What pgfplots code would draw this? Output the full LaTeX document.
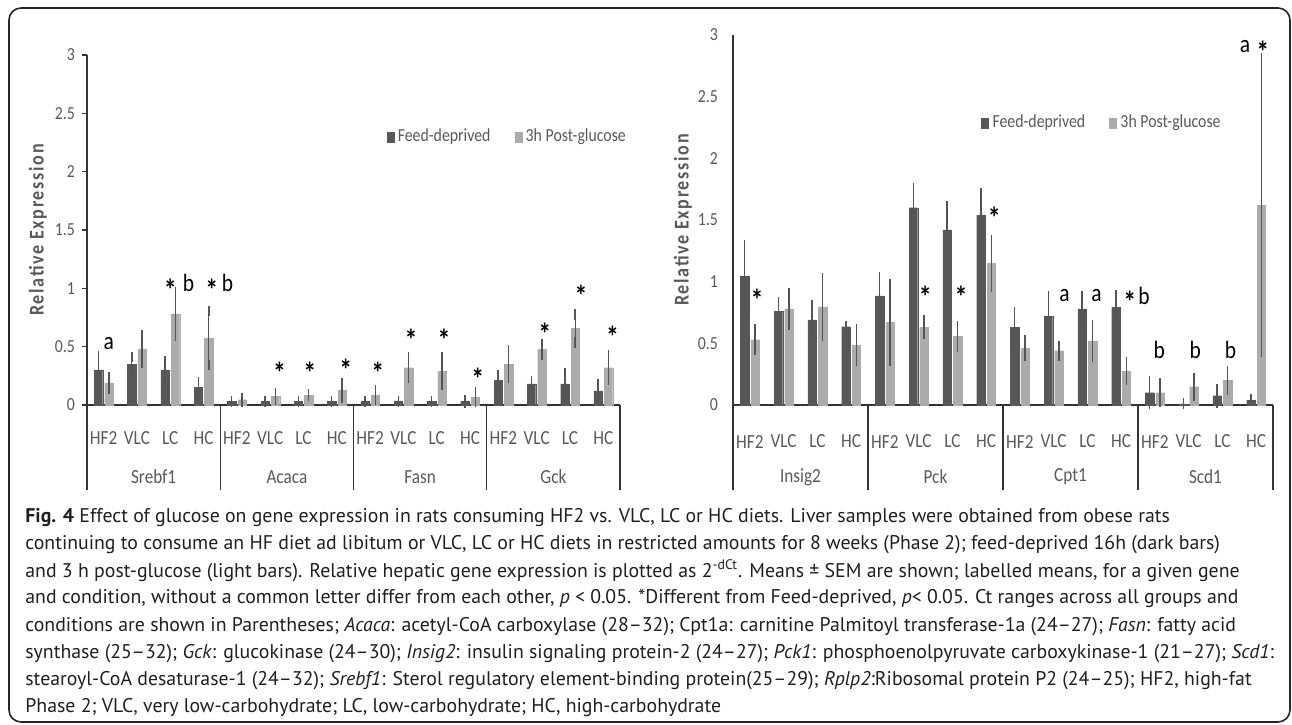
\documentclass[border=0pt]{standalone}
\usepackage{fontspec}
\setmainfont{PT Sans}
\newfontfamily\chartfont[FakeStretch=0.86]{Carlito}
\newfontfamily\labfont[FakeStretch=0.86, LetterSpace=8]{Carlito}
\usepackage{pgfplots}
\pgfplotsset{compat=1.18}
\usepackage{pgfplotstable}

\definecolor{dk}{HTML}{575757}
\definecolor{lt}{HTML}{ABABAB}
\definecolor{eb}{HTML}{555555}
\definecolor{tc}{HTML}{595959}

% x: 0-3 first gene, 4-7 second, ... ; fd = feed-deprived, pg = 3h post-glucose
\pgfplotstableread{
x fd fde pg pge
0 0.30 0.12 0.19 0.05
1 0.35 0.06 0.48 0.12
2 0.30 0.075 0.78 0.19
3 0.15 0.045 0.575 0.23
4 0.03 0.005 0.045 0.015
5 0.03 0.005 0.075 0.03
6 0.03 0.005 0.085 0.01
7 0.03 0.005 0.125 0.065
8 0.03 0.005 0.085 0.04
9 0.03 0.005 0.32 0.09
10 0.03 0.005 0.29 0.12
11 0.03 0.01 0.07 0.04
12 0.21 0.045 0.35 0.12
13 0.18 0.025 0.475 0.045
14 0.18 0.09 0.655 0.12
15 0.12 0.055 0.32 0.105
}\tabA

\pgfplotstableread{
x fd fde pg pge
0 1.045 0.25 0.53 0.085
1 0.76 0.07 0.78 0.13
2 0.69 0.12 0.795 0.23
3 0.635 0.005 0.485 0.13
4 0.885 0.15 0.67 0.31
5 1.60 0.16 0.63 0.055
6 1.42 0.19 0.555 0.08
7 1.54 0.18 1.15 0.19
8 0.63 0.12 0.46 0.065
9 0.72 0.165 0.44 0.04
10 0.78 0.10 0.52 0.13
11 0.79 0.10 0.275 0.07
12 0.10 0.09 0.10 0.075
13 0.01 0.002 0.148 0.07
14 0.075 0.055 0.20 0.075
15 0.04 0.005 1.62 1.19
}\tabB

\pgfplotsset{
  gene axis/.style={
    scale only axis, anchor=south west,
    xmin=-0.5, xmax=15.5, ymin=0, ymax=3,
    axis lines*=left, clip=false,
    axis line style={black!80, line width=0.6pt},
    ybar, bar width=4.2pt,
    xtick={0,...,15},
    xticklabels={HF2,VLC,LC,HC,HF2,VLC,LC,HC,HF2,VLC,LC,HC,HF2,VLC,LC,HC},
    x tick style={draw=none},
    xticklabel style={font=\chartfont\fontsize{10}{11}\selectfont, text=tc, anchor=center, yshift=-14pt},
    ytick={0,0.5,1,1.5,2,2.5,3},
    yticklabel style={font=\chartfont\fontsize{9.2}{10}\selectfont, text=tc},
    /pgf/number format/assume math mode=true,
    ylabel={Relative Expression},
    every axis y label/.style={at={(axis description cs:0,0.5)}, anchor=center, rotate=90,
      font=\labfont\bfseries\fontsize{10.5}{12}\selectfont, text=tc},
    legend style={draw=none, fill=none, font=\chartfont\fontsize{9.2}{10}\selectfont, text=tc,
      anchor=west, legend columns=2, /tikz/every even column/.append style={column sep=10pt}},
  },
  fd bars/.style={fill=dk, draw=dk, line width=0.1pt, bar shift=-2.6pt,
    legend image code/.code={\fill[dk] (0pt,-2.6pt) rectangle (3.5pt,2.6pt);},
    error bars/.cd, y dir=both, y explicit, error mark=-,
    error bar style={draw=eb, line width=0.7pt},
    error mark options={draw=eb, line width=0.75pt, mark size=2.6pt}},
  pg bars/.style={fill=lt, draw=lt, line width=0.1pt, bar shift=2.6pt,
    legend image code/.code={\fill[lt] (0pt,-2.6pt) rectangle (3.5pt,2.6pt);},
    error bars/.cd, y dir=both, y explicit, error mark=-,
    error bar style={draw=eb, line width=0.7pt},
    error mark options={draw=eb, line width=0.75pt, mark size=2.6pt}},
}

\newcommand{\ann}[3]{\node[font=\chartfont\fontsize{12.5}{14}\selectfont] at (axis cs:#1,#2) {#3};}
\newcommand{\str}[2]{\node[font=\chartfont\bfseries\fontsize{15}{16}\selectfont, yshift=-3pt] at (axis cs:#1,#2) {*};}
\newcommand{\gene}[2]{\node[font=\chartfont\fontsize{10}{11}\selectfont, text=tc, yshift=-36pt] at (axis cs:#1,0) {#2};}
\newcommand{\gline}[1]{\draw[black!80, line width=0.6pt] (axis cs:#1,0) -- ++(0pt,-42.5pt);}
\newcommand{\groups}{\gline{-0.5}\gline{3.5}\gline{7.5}\gline{11.5}\gline{15.5}}

\begin{document}
\begin{tikzpicture}[x=0.5pt, y=0.5pt]
\path[use as bounding box] (0,0) rectangle (1292,724);
\draw[black!85, line width=0.8pt, rounded corners=6pt] (9,2) rectangle (1290,716);

% left panel
\begin{axis}[gene axis, at={(43.5pt,159.5pt)}, width=266.5pt, height=175pt,
  ytick style={black!80, line width=0.6pt}, major tick length=2.5pt, tick align=outside,
  ylabel style={yshift=24.5pt},
  legend style={at={(0.55,0.766)}}]
\addplot[fd bars] table[x=x, y=fd, y error=fde] {\tabA};
\addlegendentry{Feed-deprived}
\addplot[pg bars] table[x=x, y=pg, y error=pge] {\tabA};
\addlegendentry{3h Post-glucose}
\groups
\gene{1.5}{Srebf1}\gene{5.5}{Acaca}\gene{9.5}{Fasn}\gene{13.5}{Gck}
\ann{0.15}{0.53}{a}
\str{2.0}{1.04}\ann{2.55}{1.05}{b}
\str{3.25}{1.04}\ann{3.72}{1.05}{b}
\str{5.28}{0.33}\str{6.19}{0.33}\str{7.27}{0.35}
\str{8.23}{0.33}\str{9.23}{0.61}\str{10.22}{0.61}\str{11.23}{0.28}
\str{13.24}{0.66}\str{14.33}{0.99}\str{15.28}{0.64}
\end{axis}

% right panel
\begin{axis}[gene axis, at={(366.5pt,159.5pt)}, width=270pt, height=185pt,
  ytick style={draw=none}, yticklabel style={xshift=-4pt},
  ylabel style={yshift=25pt},
  legend style={at={(0.448,0.762)}}]
\addplot[fd bars] table[x=x, y=fd, y error=fde] {\tabB};
\addlegendentry{Feed-deprived}
\addplot[pg bars] table[x=x, y=pg, y error=pge] {\tabB};
\addlegendentry{3h Post-glucose}
\groups
\gene{1.5}{Insig2}\gene{5.5}{Pck}\gene{9.5}{Cpt1}\gene{13.5}{Scd1}
\str{0.21}{0.90}
\str{5.2}{0.93}\str{6.26}{0.93}\str{7.24}{1.57}
\ann{9.32}{0.885}{a}\ann{10.27}{0.885}{a}\str{11.26}{0.885}\ann{11.68}{0.885}{b}
\ann{12.13}{0.445}{b}\ann{13.2}{0.445}{b}\ann{14.24}{0.445}{b}
\ann{14.67}{2.91}{a}\str{15.2}{2.91}
\end{axis}

% caption
\begin{scope}[every node/.style={anchor=base west, inner sep=0pt, text=black!88,
    font=\fontsize{9.9}{11}\selectfont}]
\node at (25,201) {\textbf{Fig. 4} Effect of glucose on gene expression in rats consuming HF2 vs. VLC, LC or HC diets. Liver samples were obtained from obese rats};
\node at (25,174) {continuing to consume an HF diet ad libitum or VLC, LC or HC diets in restricted amounts for 8 weeks (Phase 2); feed-deprived 16h (dark bars)};
\node at (25,147) {and 3 h post-glucose (light bars). Relative hepatic gene expression is plotted as 2\textsuperscript{-dCt}. Means ± SEM are shown; labelled means, for a given gene};
\node at (25,120) {and condition, without a common letter differ from each other, \textit{p} < 0.05. *Different from Feed-deprived, \textit{p}< 0.05. Ct ranges across all groups and};
\node at (25,93) {conditions are shown in Parentheses; \textit{Acaca}: acetyl-CoA carboxylase (28--32); Cpt1a: carnitine Palmitoyl transferase-1a (24--27); \textit{Fasn}: fatty acid};
\node at (25,66) {synthase (25--32); \textit{Gck}: glucokinase (24--30); \textit{Insig2}: insulin signaling protein-2 (24--27); \textit{Pck1}: phosphoenolpyruvate carboxykinase-1 (21--27); \textit{Scd1}:};
\node at (25,39) {stearoyl-CoA desaturase-1 (24--32); \textit{Srebf1}: Sterol regulatory element-binding protein(25--29); \textit{Rplp2}:Ribosomal protein P2 (24--25); HF2, high-fat};
\node at (25,12) {Phase 2; VLC, very low-carbohydrate; LC, low-carbohydrate; HC, high-carbohydrate};
\end{scope}
\end{tikzpicture}
\end{document}
